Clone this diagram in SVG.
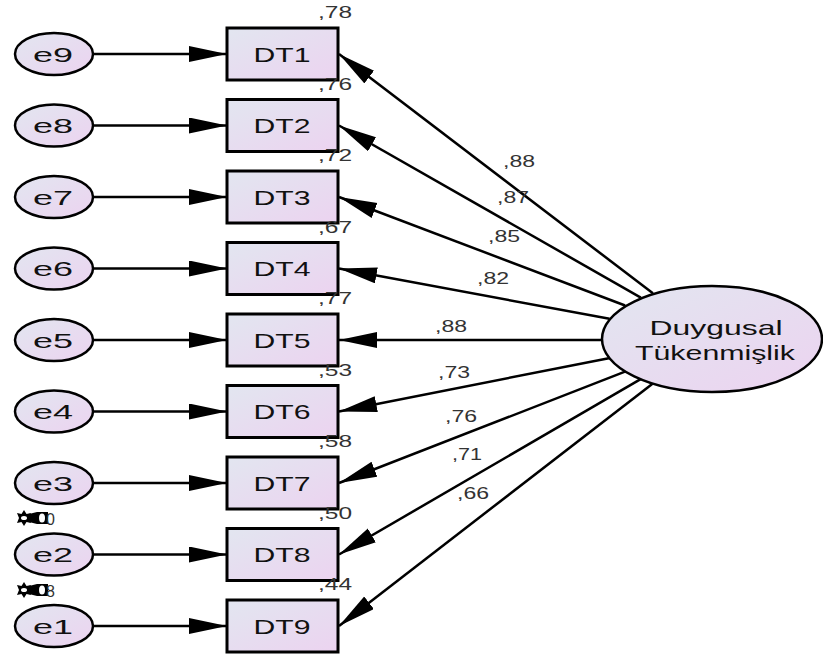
<svg xmlns="http://www.w3.org/2000/svg" width="823" height="657" viewBox="0 0 823 657">
<defs>
<linearGradient id="g" x1="0" y1="0" x2="1" y2="1">
<stop offset="0" stop-color="#e2e6f0"/>
<stop offset="1" stop-color="#ecd3f0"/>
</linearGradient>
<marker id="ah" markerUnits="userSpaceOnUse" markerWidth="40" markerHeight="18" refX="38" refY="8" orient="auto">
<path d="M0,0 L38,8 L0,16 z" fill="#000"/>
</marker>
<style>
.n{fill:url(#g);stroke:#000;stroke-width:2.5}
.r{fill:url(#g);stroke:#000;stroke-width:3}
.t{font-family:"Liberation Sans",Arial,sans-serif;font-size:21px;fill:#111;text-anchor:middle}
.l{font-family:"Liberation Sans",Arial,sans-serif;font-size:16px;fill:#333}
.c line{stroke:#000;stroke-width:2.5;marker-end:url(#ah)}
</style>
</defs>
<rect width="823" height="657" fill="#fff"/>
<g id="connectors" class="c">
<line x1="93" y1="54" x2="227" y2="54"/>
<line x1="93" y1="125.5" x2="227" y2="125.5"/>
<line x1="93" y1="197" x2="227" y2="197"/>
<line x1="93" y1="268.5" x2="227" y2="268.5"/>
<line x1="93" y1="340" x2="227" y2="340"/>
<line x1="93" y1="411.5" x2="227" y2="411.5"/>
<line x1="93" y1="483" x2="227" y2="483"/>
<line x1="93" y1="554.5" x2="227" y2="554.5"/>
<line x1="93" y1="626" x2="227" y2="626"/>
<line x1="652.9" y1="293.3" x2="339" y2="54"/>
<line x1="640.8" y1="297.6" x2="339" y2="125.5"/>
<line x1="625.1" y1="305.5" x2="339" y2="197"/>
<line x1="609.5" y1="318.8" x2="339" y2="268.5"/>
<line x1="602" y1="340" x2="339" y2="340"/>
<line x1="610" y1="357.9" x2="339" y2="411.5"/>
<line x1="626.3" y1="371.2" x2="339" y2="483"/>
<line x1="641.5" y1="378.7" x2="339" y2="554.5"/>
<line x1="653.5" y1="382.9" x2="339" y2="626"/>
</g>
<g id="pathlabels">
<text class="l" x="503" y="167" textLength="32" lengthAdjust="spacingAndGlyphs">,88</text>
<text class="l" x="497" y="203" textLength="32" lengthAdjust="spacingAndGlyphs">,87</text>
<text class="l" x="488" y="242" textLength="32" lengthAdjust="spacingAndGlyphs">,85</text>
<text class="l" x="477" y="284" textLength="32" lengthAdjust="spacingAndGlyphs">,82</text>
<text class="l" x="435" y="332" textLength="32" lengthAdjust="spacingAndGlyphs">,88</text>
<text class="l" x="438" y="378" textLength="32" lengthAdjust="spacingAndGlyphs">,73</text>
<text class="l" x="445" y="422" textLength="32" lengthAdjust="spacingAndGlyphs">,76</text>
<text class="l" x="452" y="460" textLength="30" lengthAdjust="spacingAndGlyphs">,71</text>
<text class="l" x="457" y="499" textLength="32" lengthAdjust="spacingAndGlyphs">,66</text>
</g>
<g id="e9"><ellipse class="n" cx="54" cy="54" rx="39" ry="21"/><text class="t" x="53" y="61.5" textLength="40" lengthAdjust="spacingAndGlyphs">e9</text></g>
<g id="e8"><ellipse class="n" cx="54" cy="125.5" rx="39" ry="21"/><text class="t" x="53" y="133" textLength="40" lengthAdjust="spacingAndGlyphs">e8</text></g>
<g id="e7"><ellipse class="n" cx="54" cy="197" rx="39" ry="21"/><text class="t" x="53" y="204.5" textLength="40" lengthAdjust="spacingAndGlyphs">e7</text></g>
<g id="e6"><ellipse class="n" cx="54" cy="268.5" rx="39" ry="21"/><text class="t" x="53" y="276" textLength="40" lengthAdjust="spacingAndGlyphs">e6</text></g>
<g id="e5"><ellipse class="n" cx="54" cy="340" rx="39" ry="21"/><text class="t" x="53" y="347.5" textLength="40" lengthAdjust="spacingAndGlyphs">e5</text></g>
<g id="e4"><ellipse class="n" cx="54" cy="411.5" rx="39" ry="21"/><text class="t" x="53" y="419" textLength="40" lengthAdjust="spacingAndGlyphs">e4</text></g>
<g id="e3"><ellipse class="n" cx="54" cy="483" rx="39" ry="21"/><text class="t" x="53" y="490.5" textLength="40" lengthAdjust="spacingAndGlyphs">e3</text></g>
<g id="e2"><ellipse class="n" cx="54" cy="554.5" rx="39" ry="21"/><text class="t" x="53" y="562" textLength="40" lengthAdjust="spacingAndGlyphs">e2</text></g>
<g id="e1"><ellipse class="n" cx="54" cy="626" rx="39" ry="21"/><text class="t" x="53" y="633.5" textLength="40" lengthAdjust="spacingAndGlyphs">e1</text></g>
<g id="cov32">
<polygon points="24,510 26.5,514 31,513 29,518 31,523 26.5,522 24,526 21.5,522 17,523 19,518 17,513 21.5,514" fill="#000"/>
<ellipse cx="24" cy="518" rx="3" ry="2" fill="#fff"/>
<path d="M29,514 L37,512 L48,512 L48,524 L37,524 L29,522 z" fill="#000"/>
<ellipse cx="42" cy="518" rx="3" ry="4.5" fill="#fff"/>
<text class="l" x="46" y="525">0</text>
</g>
<g id="cov21">
<polygon points="24,582 26.5,586 31,585 29,590 31,595 26.5,594 24,598 21.5,594 17,595 19,590 17,585 21.5,586" fill="#000"/>
<ellipse cx="24" cy="590" rx="3" ry="2" fill="#fff"/>
<path d="M29,586 L37,584 L48,584 L48,596 L37,596 L29,594 z" fill="#000"/>
<ellipse cx="42" cy="590" rx="3" ry="4.5" fill="#fff"/>
<text class="l" x="46" y="597">8</text>
</g>
<g id="DT1"><rect class="r" x="227" y="28" width="111" height="52"/><text class="t" x="282" y="61.5" textLength="57" lengthAdjust="spacingAndGlyphs">DT1</text><text class="l" x="318" y="18" textLength="34" lengthAdjust="spacingAndGlyphs">,78</text></g>
<g id="DT2"><rect class="r" x="227" y="99.5" width="111" height="52"/><text class="t" x="282" y="133" textLength="57" lengthAdjust="spacingAndGlyphs">DT2</text><text class="l" x="318" y="89.5" textLength="34" lengthAdjust="spacingAndGlyphs">,76</text></g>
<g id="DT3"><rect class="r" x="227" y="171" width="111" height="52"/><text class="t" x="282" y="204.5" textLength="57" lengthAdjust="spacingAndGlyphs">DT3</text><text class="l" x="318" y="161" textLength="34" lengthAdjust="spacingAndGlyphs">,72</text></g>
<g id="DT4"><rect class="r" x="227" y="242.5" width="111" height="52"/><text class="t" x="282" y="276" textLength="57" lengthAdjust="spacingAndGlyphs">DT4</text><text class="l" x="318" y="232.5" textLength="34" lengthAdjust="spacingAndGlyphs">,67</text></g>
<g id="DT5"><rect class="r" x="227" y="314" width="111" height="52"/><text class="t" x="282" y="347.5" textLength="57" lengthAdjust="spacingAndGlyphs">DT5</text><text class="l" x="318" y="304" textLength="34" lengthAdjust="spacingAndGlyphs">,77</text></g>
<g id="DT6"><rect class="r" x="227" y="385.5" width="111" height="52"/><text class="t" x="282" y="419" textLength="57" lengthAdjust="spacingAndGlyphs">DT6</text><text class="l" x="318" y="375.5" textLength="34" lengthAdjust="spacingAndGlyphs">,53</text></g>
<g id="DT7"><rect class="r" x="227" y="457" width="111" height="52"/><text class="t" x="282" y="490.5" textLength="57" lengthAdjust="spacingAndGlyphs">DT7</text><text class="l" x="318" y="447" textLength="34" lengthAdjust="spacingAndGlyphs">,58</text></g>
<g id="DT8"><rect class="r" x="227" y="528.5" width="111" height="52"/><text class="t" x="282" y="562" textLength="57" lengthAdjust="spacingAndGlyphs">DT8</text><text class="l" x="318" y="518.5" textLength="34" lengthAdjust="spacingAndGlyphs">,50</text></g>
<g id="DT9"><rect class="r" x="227" y="600" width="111" height="52"/><text class="t" x="282" y="633.5" textLength="57" lengthAdjust="spacingAndGlyphs">DT9</text><text class="l" x="318" y="590" textLength="34" lengthAdjust="spacingAndGlyphs">,44</text></g>
<g id="DuygusalTukenmislik"><ellipse class="n" cx="712" cy="339" rx="110" ry="53"/><text class="t" x="716" y="335" textLength="133" lengthAdjust="spacingAndGlyphs">Duygusal</text><text class="t" x="715" y="360" textLength="160" lengthAdjust="spacingAndGlyphs">Tükenmişlik</text></g>
</svg>
